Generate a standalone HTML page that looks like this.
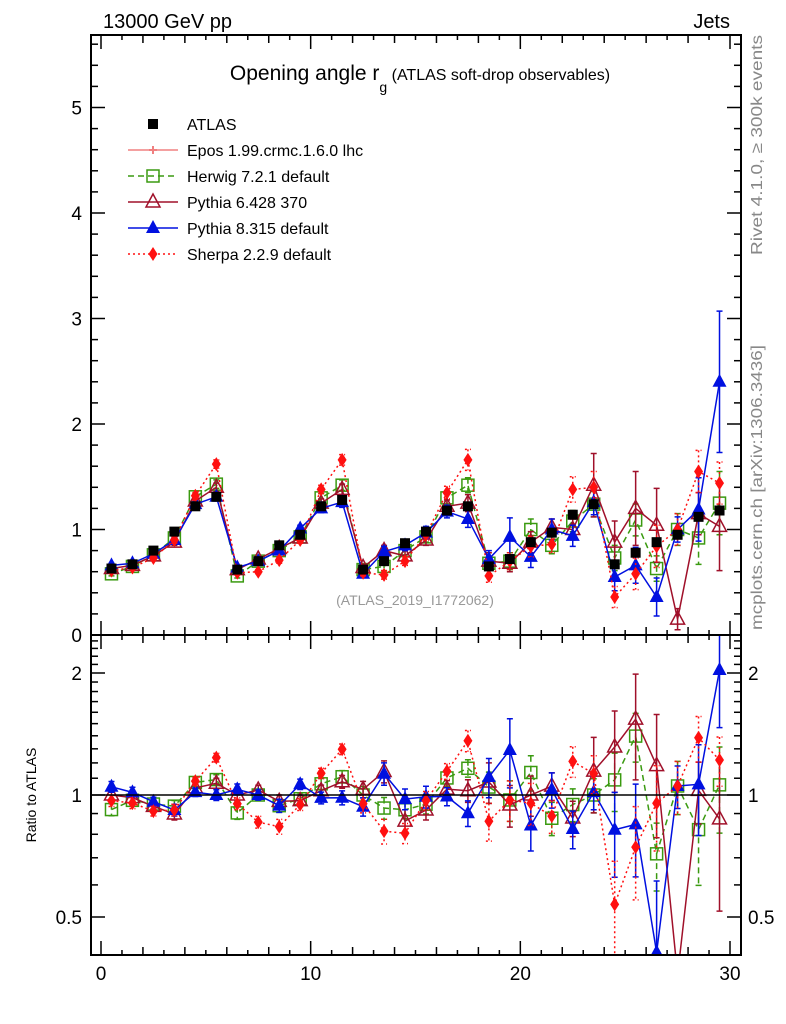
<!DOCTYPE html>
<html><head><meta charset="utf-8"><style>
html,body{margin:0;padding:0;background:#fff;width:786px;height:1024px;overflow:hidden}
svg{display:block;font-family:"Liberation Sans",sans-serif}
</style></head><body>
<svg id="chart" width="786" height="1024" viewBox="0 0 786 1024">
<g id="static">
<text x="103" y="28" font-size="20">13000 GeV pp</text>
<text x="730" y="28" font-size="20" text-anchor="end">Jets</text>
<text x="420" y="80" font-size="21" text-anchor="middle">Opening angle r<tspan font-size="14" dy="12">g</tspan><tspan font-size="16" dy="-12"> (ATLAS soft-drop observables)</tspan></text>
<text x="415" y="605" font-size="14" fill="#999" text-anchor="middle">(ATLAS_2019_I1772062)</text>
<text transform="translate(762,255) rotate(-90)" font-size="16" fill="#888" textLength="220" lengthAdjust="spacingAndGlyphs">Rivet 4.1.0, ≥ 300k events</text>
<text transform="translate(762,630) rotate(-90)" font-size="16" fill="#888" textLength="285" lengthAdjust="spacingAndGlyphs">mcplots.cern.ch [arXiv:1306.3436]</text>
<text transform="translate(36,795) rotate(-90)" font-size="14" text-anchor="middle">Ratio to ATLAS</text>
</g>
<g id="legend"></g>
<g id="main"></g>
<g id="ratio"></g>
<g id="axes"></g>
</svg>
<script>
const bins=[0.5,1.5,2.5,3.5,4.5,5.5,6.5,7.5,8.5,9.5,10.5,11.5,12.5,13.5,14.5,15.5,16.5,17.5,18.5,19.5,20.5,21.5,22.5,23.5,24.5,25.5,26.5,27.5,28.5,29.5];
const atlas=[0.63,0.67,0.80,0.98,1.22,1.31,0.62,0.70,0.85,0.95,1.22,1.28,0.62,0.70,0.87,0.98,1.18,1.22,0.65,0.72,0.88,0.97,1.14,1.24,0.67,0.78,0.88,0.95,1.12,1.18];
const herwig=[0.58,0.65,0.76,0.92,1.31,1.43,0.56,0.70,0.80,0.93,1.30,1.42,0.62,0.65,0.80,0.93,1.30,1.42,0.68,0.70,1.00,0.85,1.08,1.24,0.73,1.09,0.63,1.00,0.92,1.25];
const herwigErr=[0.02,0.02,0.02,0.03,0.03,0.04,0.02,0.02,0.03,0.03,0.04,0.05,0.03,0.04,0.04,0.05,0.06,0.07,0.06,0.08,0.1,0.08,0.1,0.12,0.12,0.15,0.12,0.15,0.25,0.3];
const py6=[0.63,0.66,0.75,0.88,1.27,1.40,0.62,0.72,0.82,0.92,1.25,1.38,0.64,0.80,0.75,0.90,1.22,1.25,0.70,0.68,0.88,1.02,1.00,1.42,0.88,1.20,1.04,0.15,1.15,1.03];
const py6Err=[0.02,0.02,0.02,0.03,0.03,0.04,0.02,0.02,0.03,0.03,0.04,0.05,0.03,0.05,0.05,0.05,0.06,0.08,0.08,0.08,0.1,0.08,0.1,0.3,0.2,0.35,0.35,0.1,0.2,0.42];
const py8=[0.66,0.68,0.77,0.90,1.24,1.31,0.64,0.70,0.80,1.01,1.20,1.26,0.58,0.79,0.85,0.97,1.17,1.10,0.72,0.93,0.74,1.00,0.94,1.26,0.55,0.66,0.36,1.00,1.19,2.40];
const py8Err=[0.02,0.02,0.02,0.03,0.03,0.04,0.02,0.02,0.03,0.03,0.04,0.05,0.03,0.05,0.05,0.06,0.06,0.08,0.08,0.18,0.1,0.1,0.1,0.12,0.13,0.17,0.18,0.12,0.3,0.67];
const sherpa=[0.61,0.64,0.73,0.90,1.32,1.62,0.59,0.60,0.71,0.90,1.38,1.66,0.59,0.57,0.70,0.95,1.35,1.66,0.56,0.70,0.84,0.86,1.38,1.40,0.36,0.58,0.84,1.00,1.55,1.44];
const sherpaErr=[0.02,0.02,0.02,0.03,0.03,0.04,0.02,0.02,0.03,0.03,0.04,0.05,0.03,0.04,0.04,0.05,0.06,0.1,0.06,0.08,0.1,0.08,0.12,0.15,0.1,0.15,0.2,0.15,0.2,0.2];
const xTicks=[0,10,20,30];
const mainTicks=[0,1,2,3,4,5];
const ratioTicks=[0.5,1,2];

const NS="http://www.w3.org/2000/svg";
const L=91,R=741,MT=35,MB=635,RB=955;
const sx=v=>101+(v)*(629/30);
const clampY=y=>Math.max(MT-20,Math.min(RB+20,y));
const sy=v=>clampY(635-v*105.5);
const ry=v=>clampY(795-Math.log2(v)*122);
function mk(tag,attrs,parent){const e=document.createElementNS(NS,tag);for(const k in attrs)e.setAttribute(k,attrs[k]);parent.appendChild(e);return e;}
const gMain=document.getElementById('main'),gRatio=document.getElementById('ratio'),gAx=document.getElementById('axes'),gLeg=document.getElementById('legend');
const defs=mk('defs',{},document.getElementById('chart'));
const c1=mk('clipPath',{id:'cm'},defs);mk('rect',{x:L,y:MT,width:R-L,height:MB-MT},c1);
const c2=mk('clipPath',{id:'cr'},defs);mk('rect',{x:L,y:MB,width:R-L,height:RB-MB},c2);
gMain.setAttribute('clip-path','url(#cm)');gRatio.setAttribute('clip-path','url(#cr)');

function marker(g,type,x,y,color){
  let e;
  if(type==='sq'){e=mk('rect',{x:x-5,y:y-5,width:10,height:10,fill:'#000'},g);}
  else if(type==='osq'){e=mk('rect',{x:x-6,y:y-6,width:12,height:12,fill:'none',stroke:color,'stroke-width':1.5},g);}
  else if(type==='otri'){e=mk('polygon',{points:`${x},${y-8} ${x-7},${y+5} ${x+7},${y+5}`,fill:'none',stroke:color,'stroke-width':1.5},g);}
  else if(type==='tri'){e=mk('polygon',{points:`${x},${y-8} ${x-7},${y+5} ${x+7},${y+5}`,fill:color},g);}
  else if(type==='dia'){e=mk('polygon',{points:`${x},${y-7} ${x-4.5},${y} ${x},${y+7} ${x+4.5},${y}`,fill:color},g);}
  else if(type==='cross'){e=mk('path',{d:`M${x-4} ${y}H${x+4}M${x} ${y-4}V${y+4}`,stroke:color,'stroke-width':2},g);}
  return e;
}
const series=[
 {name:'herwig',vals:herwig,err:herwigErr,color:'#3a9a10',dash:'6,4',m:'osq'},
 {name:'pythia6',vals:py6,err:py6Err,color:'#a0102a',dash:'',m:'otri'},
 {name:'pythia8',vals:py8,err:py8Err,color:'#0010e0',dash:'',m:'tri'},
 {name:'sherpa',vals:sherpa,err:sherpaErr,color:'#ff1010',dash:'2,3',m:'dia'}
];
function drawSeries(g,s,yf,valf,errf){
  const sg=mk('g',{},g);
  
  
  const pts=bins.map((b,i)=>sx(b)+','+yf(Math.max(valf(i),0.01))).join(' ');
  const pl=mk('polyline',{points:pts,fill:'none',stroke:s.color,'stroke-width':1.5,'stroke-dasharray':s.dash},sg);
  
  
  bins.forEach((b,i)=>{
    const v=valf(i),e=errf(i),x=sx(b);
    const y1=yf(Math.max(v+e,0.01)),y2=yf(Math.max(v-e,0.01));
    mk('path',{d:`M${x} ${y1}V${y2}M${x-3} ${y1}H${x+3}M${x-3} ${y2}H${x+3}`,stroke:s.color,'stroke-width':1.5,'stroke-dasharray':s.dash},sg);
    const m=marker(sg,s.m,x,yf(Math.max(v,0.01)),s.color);
    
    
  });
}
series.forEach(s=>drawSeries(gMain,s,sy,i=>s.vals[i],i=>s.err[i]));
series.forEach(s=>drawSeries(gRatio,s,ry,i=>s.vals[i]/atlas[i],i=>s.err[i]/atlas[i]));
bins.forEach((b,i)=>{
  const m=marker(gMain,'sq',sx(b),sy(atlas[i]));
  
  
});
const ref=mk('line',{x1:L,x2:R,y1:ry(1),y2:ry(1),stroke:'#000','stroke-width':1.5},gRatio);



const f1=mk('rect',{x:L,y:MT,width:R-L,height:MB-MT,fill:'none',stroke:'#000','stroke-width':2},gAx);

const f2=mk('rect',{x:L,y:MB,width:R-L,height:RB-MB,fill:'none',stroke:'#000','stroke-width':2},gAx);

for(let v=0;v<=30;v++){
  const x=sx(v),len=v%10===0?14:(v%2===0?8:5);
  [MB,RB].forEach(yb=>{mk('line',{x1:x,x2:x,y1:yb,y2:yb-len,stroke:'#000','stroke-width':1.5},gAx);});
  mk('line',{x1:x,x2:x,y1:MT,y2:MT+len,stroke:'#000','stroke-width':1.5},gAx);
  mk('line',{x1:x,x2:x,y1:MB,y2:MB+len,stroke:'#000','stroke-width':1.5},gAx);
}
xTicks.forEach(v=>{const t=mk('text',{x:sx(v),y:980,'font-size':19,'text-anchor':'middle'},gAx);t.textContent=v;
 });
for(let k=0;k<=28;k++){const v=k*0.2;const y=635-v*105.5;if(y<MT)continue;const len=k%5===0?14:7;
  mk('line',{x1:L,x2:L+len,y1:y,y2:y,stroke:'#000','stroke-width':1.5},gAx);
  mk('line',{x1:R,x2:R-len,y1:y,y2:y,stroke:'#000','stroke-width':1.5},gAx);}
mainTicks.forEach(v=>{const t=mk('text',{x:82,y:sy(v)+7,'font-size':19,'text-anchor':'end'},gAx);t.textContent=v;
 });
[0.4,0.5,0.6,0.7,0.8,0.9,1,1.1,1.2,1.3,1.4,1.5,1.6,1.7,1.8,1.9,2,2.1,2.2,2.3,2.4].forEach(v=>{
  const y=795-Math.log2(v)*122;if(y<MB||y>RB)return;const len=[0.5,1,2].includes(v)?14:7;
  mk('line',{x1:L,x2:L+len,y1:y,y2:y,stroke:'#000','stroke-width':1.5},gAx);
  mk('line',{x1:R,x2:R-len,y1:y,y2:y,stroke:'#000','stroke-width':1.5},gAx);});
ratioTicks.forEach(v=>{
  const t=mk('text',{x:82,y:ry(v)+7,'font-size':19,'text-anchor':'end'},gAx);t.textContent=v;
  
  const t2=mk('text',{x:748,y:ry(v)+7,'font-size':19},gAx);t2.textContent=v;
  });
const leg=[['ATLAS','sq','#000',''],['Epos 1.99.crmc.1.6.0 lhc','cross','#f08080',''],['Herwig 7.2.1 default','osq','#3a9a10','6,4'],
 ['Pythia 6.428 370','otri','#a0102a',''],['Pythia 8.315 default','tri','#0010e0',''],['Sherpa 2.2.9 default','dia','#ff1010','2,3']];
leg.forEach((l,i)=>{const y=124+i*26;const g=mk('g',{},gLeg);
  
  if(i>0)mk('line',{x1:128,x2:178,y1:y,y2:y,stroke:l[2],'stroke-width':1.5,'stroke-dasharray':l[3]},g);
  marker(g,l[1],153,y,l[2]);
  const t=mk('text',{x:187,y:y+6,'font-size':16},g);t.textContent=l[0];});
</script>
</body></html>
